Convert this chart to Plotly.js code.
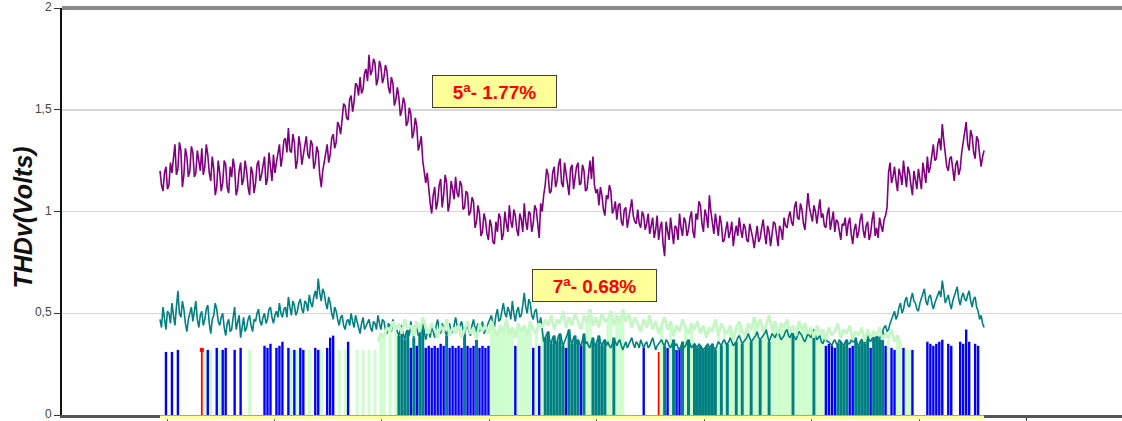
<!DOCTYPE html>
<html><head><meta charset="utf-8">
<script src="https://cdn.plot.ly/plotly-3.0.1.min.js"></script>
<style>html,body{margin:0;padding:0;background:#fff}#chart{width:1122px;height:421px}</style>
</head><body><div id="chart"></div><script>
// one sample every 5 minutes (hours); "mid" readings fall halfway between samples
const sampleHours = 1 / 12;

// 5th harmonic (purple), on-sample readings
const harmonic5 = [
1.20,1.10,1.22,1.13,1.19,1.33,1.21,1.30,1.18,1.27,
1.20,1.29,1.19,1.26,1.31,1.22,1.28,1.15,1.21,1.12,
1.19,1.14,1.23,1.09,1.17,1.21,1.11,1.24,1.16,1.20,
1.08,1.19,1.14,1.25,1.18,1.27,1.16,1.22,1.28,1.24,
1.33,1.27,1.36,1.41,1.29,1.34,1.25,1.32,1.28,1.37,
1.26,1.33,1.24,1.29,1.12,1.24,1.33,1.28,1.38,1.34,
1.42,1.47,1.52,1.45,1.57,1.54,1.62,1.66,1.60,1.70,
1.77,1.69,1.73,1.65,1.71,1.66,1.69,1.58,1.63,1.55,
1.56,1.50,1.53,1.44,1.48,1.39,1.42,1.33,1.25,1.14,
1.10,0.99,1.12,1.05,1.16,1.08,1.14,1.04,1.11,1.17,
1.07,1.13,1.02,1.09,1.00,1.05,0.95,0.99,0.90,0.96,
0.86,0.93,0.84,0.90,0.97,0.89,0.94,1.03,0.92,0.98,
0.88,0.96,1.04,0.91,0.99,0.94,1.01,0.87,1.00,1.13,
1.18,1.10,1.22,1.15,1.26,1.12,1.19,1.08,1.23,1.17,
1.24,1.14,1.20,1.11,1.25,1.27,1.09,1.03,1.08,0.98,
1.06,1.10,1.01,0.96,1.04,0.93,1.02,0.97,1.06,0.95,
1.01,0.92,0.98,0.94,0.89,0.97,0.91,0.86,0.95,0.78,
0.90,0.97,0.84,0.92,0.99,0.88,0.95,0.91,1.00,0.87,
0.96,1.03,0.90,0.98,1.08,0.93,0.99,0.88,0.94,0.86,
0.95,0.90,0.83,0.93,0.97,0.87,0.92,0.85,0.91,0.82,
0.93,0.87,0.96,0.84,0.90,0.88,0.94,0.83,0.91,0.97,
0.92,1.00,0.93,1.05,0.96,1.01,0.91,1.09,0.98,1.03,
0.94,1.06,0.99,0.92,1.02,0.96,0.90,0.95,0.86,0.93,
0.88,0.97,0.84,0.94,0.90,0.99,0.87,0.95,0.89,1.00,
0.92,0.97,0.90,0.98,1.19,1.14,1.22,1.10,1.18,1.25,
1.12,1.19,1.08,1.16,1.21,1.11,1.20,1.27,1.22,1.33,
1.26,1.36,1.43,1.29,1.20,1.27,1.15,1.25,1.21,1.34,
1.44,1.30,1.37,1.26,1.35,1.22,1.30
];
// 5th harmonic, mid readings
const harmonic5Mid = [
1.13,1.19,1.11,1.24,1.27,1.18,1.34,1.12,1.31,1.17,
1.32,1.17,1.30,1.20,1.18,1.33,1.19,1.27,1.08,1.25,
1.10,1.25,1.12,1.22,1.26,1.08,1.20,1.13,1.25,1.12,
1.22,1.09,1.23,1.15,1.24,1.13,1.29,1.15,1.19,1.30,
1.22,1.35,1.29,1.30,1.38,1.21,1.37,1.23,1.34,1.28,
1.35,1.21,1.32,1.18,1.20,1.30,1.24,1.36,1.31,1.44,
1.38,1.53,1.46,1.55,1.49,1.63,1.57,1.58,1.68,1.64,
1.67,1.75,1.62,1.74,1.63,1.72,1.61,1.66,1.52,1.61,
1.47,1.56,1.42,1.51,1.36,1.46,1.30,1.37,1.18,1.19,
1.04,1.08,1.01,1.13,1.02,1.18,1.00,1.15,1.06,1.09,
1.15,1.01,1.10,0.98,1.07,0.92,1.03,0.88,0.99,0.89,
0.96,0.85,0.95,0.99,0.86,1.00,0.90,0.95,1.01,0.91,
0.99,0.90,0.95,1.00,0.90,1.03,0.92,1.04,1.08,1.21,
1.09,1.19,1.12,1.23,1.14,1.24,1.13,1.21,1.11,1.22,
1.13,1.23,1.10,1.19,1.16,1.13,1.11,1.12,1.01,1.08,
1.13,0.99,1.05,1.03,0.95,1.01,0.92,1.03,0.98,0.94,
0.94,1.00,0.91,0.99,0.93,0.87,0.98,0.92,0.84,0.95,
0.86,0.91,0.93,0.86,0.92,0.97,0.88,0.97,0.90,0.99,
1.05,0.94,1.01,0.92,1.00,0.89,0.94,0.98,0.85,0.91,
0.87,0.95,0.89,0.88,0.91,0.94,0.86,0.94,0.87,0.89,
0.85,0.92,0.89,0.93,0.83,0.95,0.87,0.93,0.86,0.93,
0.97,0.95,1.02,0.97,1.04,0.94,1.00,1.02,0.95,1.00,
1.01,0.97,0.93,0.99,0.91,1.00,0.96,0.89,0.94,0.97,
0.94,0.89,0.91,0.87,0.96,0.91,0.93,0.86,0.96,0.88,
0.87,0.93,0.96,1.02,1.24,1.17,1.15,1.21,1.13,1.18,
1.22,1.13,1.20,1.11,1.15,1.24,1.14,1.19,1.29,1.25,
1.33,1.30,1.35,1.22,1.26,1.19,1.23,1.18,1.29,1.39,
1.33,1.40,1.29,1.37,1.28,1.27
];

// 7th harmonic (teal), on-sample readings
const harmonic7 = [
0.47,0.53,0.42,0.50,0.55,0.44,0.61,0.48,0.52,0.41,
0.50,0.46,0.56,0.43,0.51,0.47,0.54,0.40,0.49,0.52,
0.44,0.50,0.39,0.47,0.42,0.53,0.45,0.38,0.48,0.43,
0.49,0.41,0.46,0.52,0.44,0.50,0.47,0.53,0.45,0.51,
0.55,0.48,0.53,0.58,0.49,0.54,0.51,0.57,0.50,0.55,
0.59,0.53,0.61,0.67,0.56,0.60,0.52,0.55,0.47,0.51,
0.44,0.49,0.42,0.47,0.50,0.43,0.46,0.40,0.48,0.44,
0.47,0.41,0.45,0.49,0.42,0.46,0.40,0.44,0.47,0.43,
0.39,0.44,0.37,0.42,0.46,0.38,0.43,0.40,0.45,0.37,
0.41,0.44,0.38,0.47,0.40,0.43,0.39,0.45,0.41,0.48,
0.42,0.46,0.40,0.44,0.39,0.47,0.43,0.41,0.46,0.42,
0.45,0.49,0.43,0.52,0.47,0.55,0.48,0.51,0.56,0.46,
0.53,0.49,0.60,0.50,0.55,0.47,0.52,0.44,0.40,0.38,
0.41,0.35,0.39,0.36,0.40,0.34,0.38,0.42,0.35,0.39,
0.37,0.34,0.40,0.36,0.33,0.38,0.35,0.39,0.34,0.37,
0.36,0.33,0.38,0.34,0.37,0.32,0.36,0.35,0.38,0.33,
0.35,0.37,0.33,0.36,0.34,0.38,0.32,0.35,0.37,0.34,
0.36,0.33,0.37,0.35,0.32,0.36,0.34,0.37,0.33,0.35,
0.33,0.34,0.32,0.34,0.33,0.35,0.32,0.36,0.34,0.37,
0.35,0.38,0.34,0.36,0.39,0.35,0.37,0.40,0.36,0.38,
0.41,0.37,0.39,0.42,0.36,0.40,0.38,0.41,0.37,0.39,
0.42,0.38,0.40,0.37,0.41,0.39,0.36,0.40,0.38,0.42,
0.37,0.39,0.35,0.38,0.36,0.34,0.37,0.35,0.36,0.34,
0.37,0.35,0.36,0.38,0.34,0.37,0.35,0.39,0.36,0.38,
0.40,0.37,0.41,0.44,0.42,0.47,0.51,0.49,0.55,0.52,
0.58,0.53,0.60,0.55,0.51,0.57,0.62,0.54,0.59,0.52,
0.57,0.61,0.66,0.55,0.59,0.52,0.58,0.63,0.54,0.60,
0.56,0.61,0.53,0.58,0.51,0.49,0.43
];
// 7th harmonic, mid readings
const harmonic7Mid = [
0.43,0.48,0.51,0.45,0.49,0.53,0.50,0.56,0.45,0.47,
0.53,0.51,0.47,0.49,0.44,0.52,0.45,0.47,0.55,0.46,
0.48,0.43,0.45,0.41,0.48,0.42,0.49,0.44,0.41,0.47,
0.44,0.47,0.50,0.46,0.48,0.45,0.52,0.48,0.49,0.48,
0.50,0.52,0.48,0.53,0.56,0.49,0.55,0.52,0.56,0.51,
0.55,0.58,0.57,0.60,0.62,0.55,0.58,0.50,0.53,0.47,
0.48,0.44,0.46,0.44,0.46,0.49,0.43,0.45,0.42,0.46,
0.43,0.46,0.42,0.45,0.47,0.42,0.45,0.41,0.44,0.41,
0.42,0.40,0.41,0.39,0.41,0.44,0.39,0.43,0.41,0.40,
0.38,0.41,0.44,0.42,0.45,0.40,0.43,0.40,0.44,0.44,
0.44,0.42,0.43,0.41,0.44,0.42,0.45,0.43,0.40,0.44,
0.47,0.45,0.49,0.46,0.51,0.50,0.53,0.47,0.50,0.51,
0.48,0.54,0.53,0.57,0.49,0.51,0.46,0.48,0.36,0.40,
0.37,0.38,0.35,0.39,0.37,0.36,0.40,0.37,0.38,0.35,
0.35,0.37,0.35,0.34,0.36,0.34,0.37,0.36,0.36,0.34,
0.34,0.35,0.36,0.36,0.34,0.34,0.33,0.37,0.35,0.36,
0.33,0.35,0.35,0.33,0.36,0.35,0.34,0.36,0.35,0.37,
0.34,0.35,0.34,0.33,0.34,0.33,0.36,0.35,0.34,0.34,
0.35,0.33,0.33,0.35,0.34,0.33,0.34,0.35,0.36,0.35,
0.36,0.36,0.35,0.38,0.37,0.36,0.38,0.38,0.37,0.39,
0.38,0.38,0.40,0.39,0.38,0.39,0.40,0.39,0.38,0.41,
0.39,0.40,0.38,0.39,0.40,0.37,0.38,0.39,0.40,0.39,
0.38,0.36,0.37,0.36,0.35,0.36,0.35,0.37,0.35,0.36,
0.35,0.37,0.36,0.35,0.36,0.36,0.37,0.37,0.38,0.37,
0.38,0.40,0.43,0.41,0.45,0.48,0.47,0.53,0.50,0.56,
0.54,0.57,0.56,0.52,0.55,0.59,0.56,0.58,0.55,0.55,
0.60,0.58,0.61,0.57,0.55,0.56,0.61,0.57,0.58,0.57,
0.59,0.56,0.57,0.53,0.47,0.45
];

// light-green series: present from sample 73 to 248
const greenFirstSample = 73;
const greenSeries = [
0.36,0.40,0.38,0.43,0.41,0.46,0.42,
0.45,0.40,0.47,0.42,0.44,0.39,0.46,0.41,0.48,0.43,
0.40,0.45,0.42,0.38,0.44,0.41,0.47,0.39,0.43,0.40,
0.44,0.38,0.42,0.46,0.40,0.43,0.37,0.45,0.41,0.44,
0.40,0.46,0.42,0.39,0.44,0.41,0.47,0.40,0.43,0.38,
0.45,0.41,0.44,0.39,0.46,0.42,0.40,0.45,0.43,0.47,
0.44,0.49,0.42,0.47,0.45,0.51,0.43,0.48,0.44,0.50,
0.46,0.42,0.49,0.45,0.52,0.44,0.48,0.43,0.50,0.46,
0.47,0.51,0.44,0.49,0.45,0.52,0.46,0.50,0.43,0.48,
0.45,0.41,0.47,0.43,0.49,0.42,0.46,0.40,0.44,0.48,
0.42,0.46,0.39,0.44,0.41,0.47,0.43,0.40,0.45,0.42,
0.46,0.40,0.44,0.38,0.43,0.41,0.47,0.39,0.45,0.42,
0.40,0.44,0.37,0.43,0.46,0.41,0.39,0.45,0.42,0.48,
0.43,0.47,0.41,0.44,0.49,0.42,0.46,0.40,0.45,0.43,
0.47,0.41,0.44,0.39,0.46,0.42,0.45,0.40,0.43,0.38,
0.44,0.40,0.42,0.37,0.43,0.39,0.41,0.45,0.38,0.42,
0.40,0.44,0.37,0.41,0.39,0.43,0.36,0.42,0.38,0.41,
0.39,0.43,0.37,0.40,0.38,0.42,0.36,0.39,0.35
];
const greenSpikeLevel = 0.32;

// samples where each series drops to zero (drawn as vertical fills)
const greenDropSamples = [15,17,20,30,44,46,50,54,60,62,66,68,70,72,74,75,77,79,
111,112,113,114,115,116,117,118,120,121,122,123,124,126,128,143,144,150,151,153,154,155,
168,171,176,178,187,189,191,192,194,196,197,199,200,202,203,205,206,207,208,209,210,211,
213,214,215,216,217,218,220,221,222,244,247,248,250,251];
const tealDropSamples = [80,81,82,83,85,87,88,96,102,106,129,130,131,132,133,134,135,137,138,139,140,142,
145,146,147,148,149,152,169,172,175,177,179,180,181,182,183,184,185,186,188,190,193,195,198,201,204,
212,219,227,228,229,230,233,234,235,236,237,239,240,241,242];

// blue spikes
const blueSpikeSamples = [2,4,6, 16,19,21,22,25,27, 35,36,37,39,40,41, 43,45,47,48, 52,53,56,57,58, 63,
84,86,89, 90,91,92,93,94,95, 97,98,99,100,101, 103,104,105, 107,108,109,110, 119,125,127, 136,141,
162,170,173,174, 223,224,225,226, 231,232,238,243, 245,246,249,252, 257,258,259,260,261,262,
264,265, 268,269,270,271, 273,274];
const blueSpikeTops = [0.31,0.31,0.32, 0.32,0.33,0.32,0.33,0.32,0.33, 0.34,0.33,0.35,0.33,0.34,0.36,
0.33,0.32,0.33,0.32, 0.33,0.32,0.33,0.38,0.39, 0.36, 0.33,0.34,0.33, 0.34,0.33,0.34,0.33,0.35,0.34,
0.33,0.34,0.33,0.34,0.33, 0.34,0.33,0.34, 0.33,0.34,0.33,0.34, 0.34,0.33,0.34, 0.33,0.34,
0.33,0.33,0.32,0.33, 0.34,0.35,0.34,0.33, 0.33,0.34,0.33,0.34, 0.33,0.32,0.33,0.32,
0.36,0.35,0.34,0.35,0.36,0.37, 0.35,0.34, 0.36,0.35,0.42,0.36, 0.35,0.34];

// red spikes
const redSpikeSamples = [14, 167];
const redSpikeTops = [0.32, 0.31];

const yTickVals = [0, 0.5, 1, 1.5, 2];
const yTitle = '<b><i>THDv(Volts)</i></b>';
const labelFive = '<b>5<sup>a</sup>- 1.77%</b>';
const labelSeven = '<b>7<sup>a</sup>- 0.68%</b>';

const hours = harmonic5.map((_, i) => i * sampleHours);
function interleave(onSample, mid) {
  const x = [], y = [];
  onSample.forEach((v, i) => {
    x.push(i * sampleHours); y.push(v);
    if (i < mid.length) { x.push((i + 0.5) * sampleHours); y.push(mid[i]); }
  });
  return {x, y};
}
const p5 = interleave(harmonic5, harmonic5Mid);
const p7 = interleave(harmonic7, harmonic7Mid);
const greenHours = greenSeries.map((_, k) => (greenFirstSample + k) * sampleHours);
const greenAt = i => (i >= greenFirstSample && i < greenFirstSample + greenSeries.length) ? greenSeries[i - greenFirstSample] : greenSpikeLevel;

function barTrace(samples, tops, color, frac) {
  return {
    type: 'bar', x: samples.map(i => i * sampleHours), y: tops,
    width: sampleHours * frac, marker: {color: color, line: {width: 0}},
    hoverinfo: 'skip', showlegend: false
  };
}

const traces = [
  barTrace(greenDropSamples, greenDropSamples.map(greenAt), '#ccffcc', 1),
  barTrace(tealDropSamples, tealDropSamples.map(i => harmonic7[i]), '#008080', 1),
  barTrace(blueSpikeSamples, blueSpikeTops, '#0000ff', 0.8),
  barTrace(redSpikeSamples, redSpikeTops, '#ff0000', 0.6),
  {type: 'scatter', mode: 'markers', x: [redSpikeSamples[0] * sampleHours], y: [redSpikeTops[0]],
   marker: {color: '#ff0000', size: 4, symbol: 'square'}, hoverinfo: 'skip', showlegend: false, cliponaxis: false},
  {type: 'scatter', mode: 'lines', x: p7.x, y: p7.y, line: {color: '#008080', width: 1.6}, hoverinfo: 'skip', showlegend: false},
  {type: 'scatter', mode: 'lines', x: greenHours, y: greenSeries, line: {color: '#c6f6c6', width: 2.8}, hoverinfo: 'skip', showlegend: false},
  {type: 'scatter', mode: 'lines', x: p5.x, y: p5.y, line: {color: '#800080', width: 1.6}, hoverinfo: 'skip', showlegend: false}
];

const pxPerHour = 35.83;
const xRange = [-98 / pxPerHour, 962 / pxPerHour];
const toPaperX = t => (t - xRange[0]) / (xRange[1] - xRange[0]);

const layout = {
  width: 1122, height: 421,
  margin: {l: 62, r: 0, t: 8, b: 6},
  paper_bgcolor: '#ffffff', plot_bgcolor: '#ffffff',
  separators: ', ',
  barmode: 'overlay',
  showlegend: false,
  font: {family: 'Liberation Sans, Arial, sans-serif', color: '#444'},
  xaxis: {
    range: xRange,
    showticklabels: false, showgrid: false, zeroline: false,
    ticks: 'outside', ticklen: 6, tickwidth: 1, tickcolor: '#333',
    tick0: 7 / pxPerHour, dtick: 3,
    showline: true, linecolor: '#555', linewidth: 3
  },
  yaxis: {
    range: [0, 2], tickvals: yTickVals,
    ticks: 'outside', ticklen: 6, tickwidth: 1, tickcolor: '#333',
    tickfont: {size: 12, color: '#444', family: 'Liberation Sans, Arial, sans-serif'},
    ticklabeloverflow: 'allow', ticklabelshift: -1,
    showline: true, linecolor: '#111', linewidth: 2,
    showgrid: true, gridcolor: '#d6d6d6', gridwidth: 1.5, zeroline: false
  },
  shapes: [
    {type: 'line', xref: 'paper', yref: 'paper', x0: 0, x1: 1, y0: 1, y1: 1, line: {color: '#8a8a8a', width: 4}},
    {type: 'line', xref: 'paper', yref: 'paper', x0: toPaperX(hours[0]), x1: toPaperX(hours[hours.length - 1]),
     y0: -0.006, y1: -0.006, line: {color: '#ffff99', width: 4}}
  ],
  annotations: [
    {text: yTitle, xref: 'paper', yref: 'paper', x: -39.5 / 1060, y: 197 / 407, xanchor: 'center', yanchor: 'middle',
     textangle: -90, showarrow: false, font: {size: 25, color: '#111', family: 'Liberation Sans, Arial, sans-serif'}},
    {text: labelFive, xref: 'x', yref: 'y', x: 334.5 / pxPerHour, y: 1.591, showarrow: false,
     bgcolor: '#ffff99', bordercolor: '#404040', borderwidth: 1, borderpad: 1, width: 121, height: 29,
     font: {size: 19, color: '#ff0000', family: 'Liberation Sans, Arial, sans-serif'}},
    {text: labelSeven, xref: 'x', yref: 'y', x: 434 / pxPerHour, y: 0.635, showarrow: false,
     bgcolor: '#ffff99', bordercolor: '#404040', borderwidth: 1, borderpad: 1, width: 121, height: 29,
     font: {size: 19, color: '#ff0000', family: 'Liberation Sans, Arial, sans-serif'}}
  ]
};

Plotly.newPlot('chart', traces, layout, {staticPlot: true, displayModeBar: false});
</script></body></html>
